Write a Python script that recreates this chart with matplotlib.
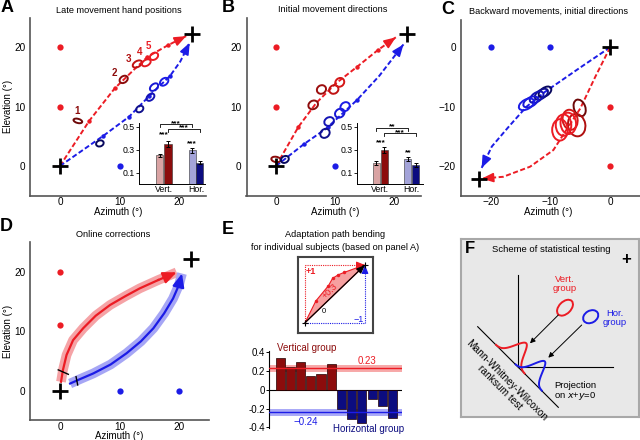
import numpy as np
import matplotlib
matplotlib.use('Agg')
import matplotlib.pyplot as plt
from matplotlib.patches import Ellipse, Polygon, FancyArrowPatch

plt.rcParams['font.family'] = ['Liberation Sans', 'DejaVu Sans']

# ---------------- colours ----------------
RED = '#ec1c24'
DRED = '#8c0c0c'
BLUE = '#1c1ce6'
NAVY = '#0c0c80'
PINK = '#d9a3a3'
LAV = '#a3a3d9'

# ---------------- data ----------------
# panel A : late movement hand positions
A_red_x = [0, 4.9, 9.2, 12.8, 14.7, 18.2, 21.2]
A_red_y = [0, 7.6, 13.1, 16.6, 18.4, 20.4, 21.9]
A_red_dots_x = [4.9, 9.2, 14.7, 18.2]
A_red_dots_y = [7.6, 13.1, 18.4, 20.4]
A_blue_x = [0, 7.3, 11.6, 15.0, 18.5, 20.2, 21.8]
A_blue_y = [0, 5.1, 8.3, 11.8, 15.2, 17.6, 20.8]
A_blue_dots_x = [7.3, 11.6, 15.0, 18.5]
A_blue_dots_y = [5.1, 8.3, 11.8, 15.2]
A_red_ell_x = [3.0, 10.7, 13.0, 14.5, 15.8]
A_red_ell_y = [7.6, 14.6, 17.2, 17.4, 18.5]
A_red_ell_w = [0.7, 1.5, 1.7, 1.6, 1.5]
A_red_ell_h = [1.5, 1.1, 1.0, 1.0, 1.1]
A_red_ell_a = [75, 35, 30, 30, 35]
A_red_labels = ['1', '2', '3', '4', '5']
A_red_lab_x = [2.9, 9.1, 11.5, 13.3, 14.8]
A_red_lab_y = [9.2, 15.7, 18.0, 19.3, 20.2]
A_blue_ell_x = [6.7, 13.4, 15.2, 15.8, 17.5]
A_blue_ell_y = [3.8, 9.6, 11.6, 13.3, 14.2]
A_blue_ell_w = [1.3, 1.3, 1.5, 1.6, 1.6]
A_blue_ell_h = [1.0, 1.0, 1.0, 1.0, 1.1]
A_blue_ell_a = [20, 35, 40, 40, 40]

# panel B : initial movement directions
B_red_x = [0, 3.8, 6.8, 10.0, 13.7, 17.2, 20.3]
B_red_y = [0, 6.6, 10.6, 13.8, 16.7, 19.5, 21.7]
B_red_dots_x = [3.8, 13.7, 17.2]
B_red_dots_y = [6.6, 16.7, 19.5]
B_blue_x = [0, 4.75, 8.5, 11.0, 13.7, 17.5, 21.6]
B_blue_y = [0, 3.7, 6.3, 8.6, 11.1, 15.2, 20.5]
B_blue_dots_x = [4.75, 8.8, 13.7]
B_blue_dots_y = [3.7, 6.6, 11.1]
B_red_ell_x = [0.0, 6.3, 7.7, 9.8, 10.8]
B_red_ell_y = [1.1, 10.3, 12.9, 12.9, 14.1]
B_red_ell_w = [0.9, 1.7, 1.6, 1.6, 1.6]
B_red_ell_h = [1.6, 1.4, 1.4, 1.4, 1.4]
B_red_ell_a = [80, 30, 30, 30, 40]
B_blue_ell_x = [1.5, 8.3, 9.0, 10.8, 11.7]
B_blue_ell_y = [1.1, 5.5, 7.5, 8.9, 10.0]
B_blue_ell_w = [1.4, 1.7, 1.7, 1.7, 1.7]
B_blue_ell_h = [1.1, 1.4, 1.4, 1.4, 1.4]
B_blue_ell_a = [30, 40, 30, 35, 40]

# panel C : backward movements
C_blue_x = [0, -5.0, -10.9, -14.0, -17.0, -19.8, -21.5]
C_blue_y = [0, -3.4, -7.5, -10.0, -13.4, -16.7, -20.3]
C_red_x = [0, -2.5, -5.0, -7.0, -9.5, -13.4, -17.9, -21.5]
C_red_y = [0, -5.0, -10.3, -13.4, -17.3, -20.1, -21.8, -22.1]
C_blue_ell_x = [-10.9, -11.5, -12.3, -13.3, -14.0]
C_blue_ell_y = [-7.5, -7.9, -8.4, -9.2, -9.6]
C_red_ell_x = [-5.1, -5.6, -6.7, -7.0, -7.8, -8.4]
C_red_ell_y = [-10.2, -13.1, -12.2, -12.8, -13.1, -13.9]
C_red_ell_w = [1.9, 2.9, 2.5, 2.6, 2.6, 2.6]
C_red_ell_h = [2.9, 3.8, 3.4, 3.6, 3.6, 3.6]

# panel D : online corrections
D_red_x = [0.17, 0.5, 1.1, 2.2, 3.9, 6.0, 8.4, 11.0, 13.4, 16.5, 19.6]
D_red_y = [1.5, 3.5, 6.0, 8.5, 10.5, 12.6, 14.4, 15.9, 17.2, 18.6, 19.9]
D_blue_x = [1.7, 3.5, 5.6, 8.5, 11.2, 13.6, 15.7, 17.5, 19.0, 20.0, 20.5]
D_blue_y = [1.2, 2.0, 2.9, 4.4, 6.3, 8.3, 10.5, 13.0, 15.5, 17.8, 19.7]
D_red_tick_x = [-0.3, 1.4]
D_red_tick_y = [3.5, 2.75]
D_blue_tick_x = [2.7, 2.97]
D_blue_tick_y = [2.35, 0.96]

# insets A/B
inset_pos = [0, 1, 3.9, 4.85]
inset_cols = [PINK, DRED, LAV, NAVY]
A_inset_vals = [0.25, 0.352, 0.294, 0.187]
A_inset_err = [0.015, 0.025, 0.022, 0.012]
B_inset_vals = [0.18, 0.295, 0.22, 0.167]
B_inset_err = [0.018, 0.025, 0.02, 0.02]

# panel E
E_vals = [0.34, 0.24, 0.29, 0.14, 0.166, 0.276,
          -0.205, -0.315, -0.357, -0.10, -0.17, -0.30]
E_vert_mean = 0.23
E_hor_mean = -0.24
E_yticks = [0.4, 0.2, 0, -0.2, -0.4]
E_ylabels = ['0.4', '0.2', '0', '-0.2', '-0.4']
E_diag_u = [0, 0.18, 0.39, 0.46, 0.555, 0.65, 0.86, 1]
E_diag_v = [0, 0.376, 0.64, 0.77, 0.83, 0.87, 0.95, 1]

# fixation targets
A_red_fix_x, A_red_fix_y = [0, 0], [20, 10]
A_blue_fix_x, A_blue_fix_y = [10], [0]
C_blue_fix_x, C_blue_fix_y = [-20, -10], [0, 0]
C_red_fix_x, C_red_fix_y = [0, 0], [-10, -20]
D_red_fix_x, D_red_fix_y = [0, 0], [20, 11]
D_blue_fix_x, D_blue_fix_y = [10, 20], [0, 0]

W, H = 640, 440
fig = plt.figure(figsize=(6.4, 4.4), dpi=100)


def ax_px(l, t, r, b, **kw):
    return fig.add_axes([l / W, 1 - b / H, (r - l) / W, (b - t) / H], **kw)


def ft(x, y, s, **kw):
    fig.text(x / W, 1 - y / H, s, **kw)


def style_main(ax):
    for s in ['top', 'right']:
        ax.spines[s].set_visible(False)
    for s in ['left', 'bottom']:
        ax.spines[s].set_color('#555555')
        ax.spines[s].set_linewidth(1.2)
    ax.tick_params(axis='y', length=0, labelsize=7.2, pad=3.5)
    ax.tick_params(axis='x', length=0, labelsize=7.2, pad=1.2)
    ax.set_facecolor('none')


def dashed_path(ax, xs, ys, color, dx=None, dy=None):
    ax.plot(xs, ys, color=color, lw=1.4, ls=(0, (2.6, 1.3)), zorder=2)
    if dx is not None:
        ax.plot(dx, dy, 'o', color=color, ms=3.2, mec='none', zorder=3)
    x1, y1, x0, y0 = xs[-1], ys[-1], xs[-2], ys[-2]
    ax.annotate('', xy=(x1, y1), xytext=(x1 - 0.25 * (x1 - x0), y1 - 0.25 * (y1 - y0)),
                arrowprops=dict(arrowstyle='-|>,head_length=0.7,head_width=0.28',
                                color=color, lw=1.2, shrinkA=0, shrinkB=0), zorder=4)


def ellipses(ax, xs, ys, ws, hs, angs, cols, lw=1.4):
    for x, y, w, h, a, c in zip(xs, ys, ws, hs, angs, cols):
        ax.add_patch(Ellipse((x, y), w, h, angle=a, fill=False, ec=c, lw=lw, zorder=5))


def cross(ax, x, y):
    ax.plot([x], [y], '+', color='black', ms=11, mew=2.0, zorder=6)


blue_grad = ['#08085e', '#10108c', '#1414b4', '#1818d4', '#1c1ce6']


def inset(l, t, r, b, vals, errs, xl, stars, brackets):
    ax = ax_px(l, t, r, b)
    ax.bar(inset_pos, vals, width=0.85, color=inset_cols, edgecolor='#333333', lw=0.4)
    ax.errorbar(inset_pos, vals, yerr=errs, fmt='none', ecolor='black', elinewidth=0.7, capsize=1.2, capthick=0.7)
    ax.set_xlim(*xl)
    ax.set_ylim(0, 0.535)
    ax.set_yticks([0.1, 0.3, 0.5])
    ax.set_yticklabels(['0.1', '0.3', '0.5'])
    ax.set_xticks([0.5, 4.375])
    ax.set_xticklabels(['Vert.', 'Hor.'])
    ax.tick_params(axis='y', length=2, width=0.6, labelsize=6.3, pad=1)
    ax.tick_params(axis='x', length=0, labelsize=6.3, pad=1)
    for s in ['top', 'right']:
        ax.spines[s].set_visible(False)
    for s in ['left', 'bottom']:
        ax.spines[s].set_linewidth(0.7)
    ax.set_facecolor('none')
    for (x, y, s) in stars:
        ax.text(x, y, s, ha='center', va='center', fontsize=6, fontweight='bold')
    for (x1, x2, y, s) in brackets:
        ax.plot([x1, x1, x2, x2], [y - 0.025, y, y, y - 0.025], color='black', lw=0.6)
        ax.text((x1 + x2) / 2, y + 0.008, s, ha='center', va='center', fontsize=6, fontweight='bold')
    return ax


# ================= panel A =================
axA = ax_px(30.25, 17.75, 205.8, 195.6)
style_main(axA)
axA.set_xlim(-5, 24.5)
axA.set_ylim(-5, 25)
axA.set_xticks([0, 10, 20])
axA.set_yticks([0, 10, 20])
axA.plot(A_red_fix_x, A_red_fix_y, 'o', color=RED, ms=4.5, mec='none')
axA.plot(A_blue_fix_x, A_blue_fix_y, 'o', color=BLUE, ms=4.5, mec='none')
dashed_path(axA, A_red_x, A_red_y, RED, A_red_dots_x, A_red_dots_y)
dashed_path(axA, A_blue_x, A_blue_y, BLUE, A_blue_dots_x, A_blue_dots_y)
ellipses(axA, A_red_ell_x, A_red_ell_y, A_red_ell_w, A_red_ell_h, A_red_ell_a,
         ['#6e0808', '#8c0c0c', '#c01212', '#e41a20', '#ec1c24'])
ellipses(axA, A_blue_ell_x, A_blue_ell_y, A_blue_ell_w, A_blue_ell_h, A_blue_ell_a, blue_grad)
for lab, x, y, c in zip(A_red_labels, A_red_lab_x, A_red_lab_y,
                        ['#8c0c0c', '#8c0c0c', '#b01010', '#d41818', '#ec1c24']):
    axA.text(x, y, lab, color=c, fontsize=7, fontweight='bold', ha='center', va='center')
cross(axA, 0, 0)
cross(axA, 22.2, 22.2)

inset(139, 122.7, 205, 184, A_inset_vals, A_inset_err, (-2.5, 5.46),
      [(0.5, 0.43, '***'), (3.9, 0.35, '***')],
      [(0, 3.9, 0.52, '***'), (1, 4.85, 0.48, '***')])

# ================= panel B =================
axB = ax_px(246.5, 17.75, 420.6, 195.6)
style_main(axB)
axB.set_xlim(-5, 24.5)
axB.set_ylim(-5, 25)
axB.set_xticks([0, 10, 20])
axB.set_yticks([0, 10, 20])
axB.plot(A_red_fix_x, A_red_fix_y, 'o', color=RED, ms=4.5, mec='none')
axB.plot(A_blue_fix_x, A_blue_fix_y, 'o', color=BLUE, ms=4.5, mec='none')
dashed_path(axB, B_red_x, B_red_y, RED, B_red_dots_x, B_red_dots_y)
dashed_path(axB, B_blue_x, B_blue_y, BLUE, B_blue_dots_x, B_blue_dots_y)
ellipses(axB, B_red_ell_x, B_red_ell_y, B_red_ell_w, B_red_ell_h, B_red_ell_a,
         ['#8c0c0c', '#8c0c0c', '#9c0e0e', '#c01212', '#d41818'])
ellipses(axB, B_blue_ell_x, B_blue_ell_y, B_blue_ell_w, B_blue_ell_h, B_blue_ell_a, blue_grad)
cross(axB, 0, 0)
cross(axB, 22.2, 22.2)

inset(356.7, 122.7, 423, 184, B_inset_vals, B_inset_err, (-2.42, 5.77),
      [(0.6, 0.36, '***'), (3.9, 0.27, '**')],
      [(0, 3.9, 0.49, '**'), (1, 4.85, 0.443, '***')])

# ================= panel C =================
axC = ax_px(460.75, 20.0, 640, 195.8)
style_main(axC)
axC.set_xlim(-25, 5)
axC.set_ylim(-25, 4.6)
axC.set_xticks([-20, -10, 0])
axC.set_yticks([-20, -10, 0])
axC.plot(C_blue_fix_x, C_blue_fix_y, 'o', color=BLUE, ms=4.5, mec='none')
axC.plot(C_red_fix_x, C_red_fix_y, 'o', color=RED, ms=4.5, mec='none')
dashed_path(axC, C_blue_x, C_blue_y, BLUE)
dashed_path(axC, C_red_x, C_red_y, RED)
ellipses(axC, C_blue_ell_x, C_blue_ell_y, [2.4, 2.5, 2.6, 2.7, 2.8], [1.4, 1.4, 1.5, 1.5, 1.6],
         [35, 35, 35, 30, 30], ['#08085e', '#10108c', '#1414b4', '#1818d4', '#1c1ce6'])
ellipses(axC, C_red_ell_x, C_red_ell_y, C_red_ell_w, C_red_ell_h, [20, 10, 10, 5, 0, 0],
         ['#6e0808', '#b01010', '#d41818', '#ec1c24', '#ec1c24', '#ec1c24'])
cross(axC, 0, 0)
cross(axC, -22.0, -22.2)

# ================= panel D =================
axD = ax_px(30.25, 242.0, 208.75, 420.4)
style_main(axD)
axD.set_xlim(-5, 25)
axD.set_ylim(-5, 25)
axD.set_xticks([0, 10, 20])
axD.set_yticks([0, 10, 20])
axD.tick_params(axis='x', pad=1.0)
axD.plot(D_red_fix_x, D_red_fix_y, 'o', color=RED, ms=4.5, mec='none')
axD.plot(D_blue_fix_x, D_blue_fix_y, 'o', color=BLUE, ms=4.5, mec='none')
for xs, ys, c, band in [(D_red_x, D_red_y, RED, '#f5a3a6'), (D_blue_x, D_blue_y, BLUE, '#a6a6f5')]:
    axD.plot(xs, ys, color=band, lw=7, solid_capstyle='butt', zorder=2)
    axD.plot(xs[:-1], ys[:-1], color=c, lw=1.6, zorder=3)
    axD.annotate('', xy=(xs[-1], ys[-1]), xytext=(xs[-2], ys[-2]),
                 arrowprops=dict(arrowstyle='-|>,head_length=0.8,head_width=0.35',
                                 color=c, lw=1.6, shrinkA=0, shrinkB=0), zorder=4)
axD.plot(D_red_tick_x, D_red_tick_y, color='black', lw=1.0, zorder=5)
axD.plot(D_blue_tick_x, D_blue_tick_y, color='black', lw=1.0, zorder=5)
cross(axD, 0, 0)
cross(axD, 22.0, 22.2)

# ================= panel E : diagram =================
axEd = ax_px(297.7, 257.3, 372.5, 333.0)
axEd.set_xlim(-0.122, 1.125)
axEd.set_ylim(-0.178, 1.133)
axEd.set_xticks([])
axEd.set_yticks([])
for s in axEd.spines.values():
    s.set_color('#444444')
    s.set_linewidth(1.5)
axEd.add_patch(Polygon(list(zip(E_diag_u, E_diag_v)), closed=True, fc='#f6a0a0', ec=RED, lw=0.8, zorder=1))
axEd.plot(E_diag_u[1:-1], E_diag_v[1:-1], 'o', color=RED, ms=2.5, mec='none', zorder=3)
axEd.plot([0, 0, 0.93], [0, 1, 1], color=RED, lw=0.8, ls=(0, (1, 1)))
axEd.annotate('', xy=(1, 1), xytext=(0.9, 1),
              arrowprops=dict(arrowstyle='-|>,head_length=0.5,head_width=0.2', color=RED, lw=0.8,
                              shrinkA=0, shrinkB=0))
axEd.plot([0, 1, 1], [0, 0, 0.93], color=BLUE, lw=0.8, ls=(0, (1, 1)))
axEd.annotate('', xy=(1, 1), xytext=(1, 0.9),
              arrowprops=dict(arrowstyle='-|>,head_length=0.5,head_width=0.2', color=BLUE, lw=0.8,
                              shrinkA=0, shrinkB=0))
axEd.annotate('', xy=(1, 1), xytext=(0, 0),
              arrowprops=dict(arrowstyle='-|>,head_length=0.5,head_width=0.2', color='black', lw=0.9,
                              shrinkA=0, shrinkB=0), zorder=4)
axEd.plot([0, 1], [0, 1], '+', color='black', ms=4, mew=0.8, zorder=5)
axEd.text(0.1, 0.88, '+1', color=RED, fontsize=6.5, fontweight='bold', ha='center', va='center')
axEd.text(0.42, 0.55, '+0.3', color=RED, fontsize=6.5, ha='center', va='center', rotation=45)
axEd.text(0.31, 0.19, '0', color='black', fontsize=5.5, ha='center', va='center')
axEd.text(0.9, 0.05, '\u22121', color=BLUE, fontsize=6.5, ha='center', va='center')

# ================= panel E : bars =================
axE = ax_px(269, 351.0, 401.7, 428.4)
axE.bar(range(len(E_vals)), E_vals, width=0.9,
        color=[DRED] * 6 + [NAVY] * 6, edgecolor='#220000', lw=0.5, zorder=2)
axE.set_xlim(-1.1, 11.9)
axE.set_ylim(-0.41, 0.41)
axE.axhline(0, color='black', lw=0.8, zorder=1)
axE.axhline(E_vert_mean, color='#f7a8a8', lw=5, zorder=1)
axE.axhline(E_vert_mean, color=RED, lw=1.0, zorder=3)
axE.axhline(E_hor_mean, color='#a8a8f7', lw=5, zorder=1)
axE.axhline(E_hor_mean, color=BLUE, lw=1.0, zorder=3)
axE.set_yticks(E_yticks)
axE.set_yticklabels(E_ylabels)
axE.set_xticks([])
axE.tick_params(axis='y', length=2, width=0.7, labelsize=7, pad=1)
for s in ['top', 'right', 'bottom']:
    axE.spines[s].set_visible(False)
axE.spines['left'].set_linewidth(0.8)
axE.set_facecolor('none')
ft(306.7, 347.7, 'Vertical group', color=DRED, fontsize=7, ha='center', va='center')
ft(366.7, 360.7, '0.23', color=RED, fontsize=7, ha='center', va='center')
ft(306.0, 422.0, '\u22120.24', color=BLUE, fontsize=7, ha='center', va='center')
ft(368.3, 428.5, 'Horizontal group', color=NAVY, fontsize=7, ha='center', va='center')

# ================= panel F =================
axF = ax_px(460.7, 239.0, 639.0, 416.7)
axF.set_xlim(460.7, 639.0)
axF.set_ylim(416.7, 239.0)
axF.set_xticks([])
axF.set_yticks([])
axF.set_facecolor('#e8e8e8')
for s in axF.spines.values():
    s.set_color('#a8a8a8')
    s.set_linewidth(1.5)
F_origin = (517.7, 366.7)
F_vaxis_top = 275.0
F_haxis_right = 612.7
F_line_start = (477.7, 326.7)
F_line_len = 114.0
axF.plot([F_origin[0], F_origin[0]], [F_vaxis_top, F_origin[1]], color='black', lw=0.8)
axF.plot([F_origin[0], F_haxis_right], [F_origin[1], F_origin[1]], color='black', lw=0.8)
d = np.array([1, 1]) / np.sqrt(2)
n = np.array([1, -1]) / np.sqrt(2)
p0 = np.array(F_line_start)
p1 = p0 + F_line_len * d
axF.plot([p0[0], p1[0]], [p0[1], p1[1]], color='black', lw=0.8)
F_dist_center = [46.0, 72.0]
F_dist_height = [22.6, 22.9]
F_dist_sigma = [6.3, 5.8]
F_dist_col = [RED, BLUE]
for c, h, sg, col in zip(F_dist_center, F_dist_height, F_dist_sigma, F_dist_col):
    t = np.linspace(-3.2 * sg, 3.2 * sg, 80)
    g = h * np.exp(-t ** 2 / (2 * sg ** 2))
    pts = p0[None, :] + (c + t)[:, None] * d[None, :] + g[:, None] * n[None, :]
    axF.plot(pts[:, 0], pts[:, 1], color=col, lw=1.4)
axF.add_patch(Ellipse((565, 307.7), 19, 12, angle=-45, fill=False, ec=RED, lw=1.4))
axF.add_patch(Ellipse((590.7, 316.7), 16, 12, angle=-30, fill=False, ec=BLUE, lw=1.4))
for (xa, ya, xb, yb) in [(558.3, 315.0, 530.0, 343.3), (581.7, 325.0, 548.3, 357.7)]:
    axF.add_patch(FancyArrowPatch((xa, ya), (xb, yb), arrowstyle='-|>,head_length=3,head_width=1.5',
                                  color='black', lw=0.7, shrinkA=0, shrinkB=0))
axF.text(470, 248, 'F', fontsize=12, fontweight='bold', ha='center', va='center')
axF.text(551.7, 249.3, 'Scheme of statistical testing', fontsize=6.8, ha='center', va='center')
axF.text(626, 259.3, '+', fontsize=12, fontweight='bold', ha='center', va='center')
axF.text(565, 284, 'Vert.\ngroup', color=RED, fontsize=6.8, ha='center', va='center', linespacing=1.0)
axF.text(615, 318.3, 'Hor.\ngroup', color=BLUE, fontsize=6.8, ha='center', va='center', linespacing=1.0)
axF.text(554, 391, 'Projection\non $x$+$y$=0', fontsize=6.8, ha='left', va='center', linespacing=1.0)
axF.text(503.5, 383.5, 'Mann-Whitney-Wilcoxon\nranksum test', fontsize=7.3, ha='center', va='center',
         rotation=-45, rotation_mode='anchor', linespacing=1.0)

# ================= texts =================
ft(1, 7.5, 'A', fontsize=13, fontweight='bold', va='center')
ft(222, 7.5, 'B', fontsize=13, fontweight='bold', va='center')
ft(441, 9, 'C', fontsize=13, fontweight='bold', va='center')
ft(0, 226, 'D', fontsize=13, fontweight='bold', va='center')
ft(222, 229, 'E', fontsize=13, fontweight='bold', va='center')

ft(118.5, 10.7, 'Late movement hand positions', fontsize=6.6, ha='center', va='center')
ft(332.7, 10.0, 'Initial movement directions', fontsize=6.6, ha='center', va='center')
ft(548.3, 11.0, 'Backward movements, initial directions', fontsize=6.6, ha='center', va='center')
ft(112.8, 234.3, 'Online corrections', fontsize=6.6, ha='center', va='center')
ft(335, 234.3, 'Adaptation path bending', fontsize=6.6, ha='center', va='center')
ft(335, 247.7, 'for individual subjects (based on panel A)', fontsize=6.6, ha='center', va='center')

ft(118, 212, 'Azimuth (\u00b0)', fontsize=7, ha='center', va='center')
ft(335, 212, 'Azimuth (\u00b0)', fontsize=7, ha='center', va='center')
ft(548, 212, 'Azimuth (\u00b0)', fontsize=7, ha='center', va='center')
ft(119, 435.5, 'Azimuth (\u00b0)', fontsize=7, ha='center', va='center')
ft(8, 106, 'Elevation (\u00b0)', fontsize=7, ha='center', va='center', rotation=90)
ft(8, 331, 'Elevation (\u00b0)', fontsize=7, ha='center', va='center', rotation=90)

fig.savefig('out.png', dpi=100)
